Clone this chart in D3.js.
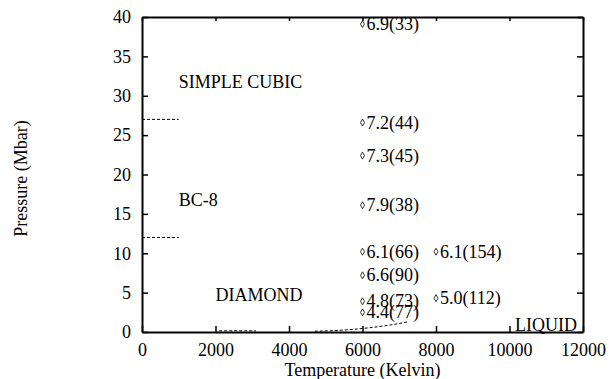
<!DOCTYPE html>
<html>
<head>
<meta charset="utf-8">
<script src="https://cdn.jsdelivr.net/npm/d3@7"></script>
<style>
  body { margin: 0; background: #fff; }
  text { font-family: "Liberation Serif", "Times New Roman", serif; fill: #000; }
</style>
</head>
<body>
<div id="chart"></div>
<script>
// data
const pointT = [6000, 6000, 6000, 6000, 6000, 6000, 6000, 6000, 8000, 8000];
const pointP = [39.1, 26.6, 22.4, 16.1, 10.2, 7.2, 3.9, 2.5, 10.2, 4.3];
const pointLabels = ["6.9(33)", "7.2(44)", "7.3(45)", "7.9(38)", "6.1(66)", "6.6(90)",
    "4.8(73)", "4.4(77)", "6.1(154)", "5.0(112)"];

// phase boundaries (dashed)
const boundaryT = [[0, 1000], [0, 1000], [4700, 5500, 6000, 6700, 7250], [2100, 3100]];
const boundaryP = [[27, 27], [12, 12], [0.1, 0.25, 0.45, 0.85, 1.3], [0.15, 0.15]];

const phaseNames = ["SIMPLE CUBIC", "BC-8", "DIAMOND", "LIQUID"];
const phaseT = [1000, 1000, 2000, 10150];
const phaseP = [31, 16, 3.9, 0.1];

const xTicks = [0, 2000, 4000, 6000, 8000, 10000, 12000];
const yTicks = [0, 5, 10, 15, 20, 25, 30, 35, 40];

const fontSize = "18px";
const serif = "'Liberation Serif', 'Times New Roman', serif";

const margin = { top: 17, right: 30, bottom: 47, left: 142 },
    width = 613 - margin.left - margin.right,
    height = 379 - margin.top - margin.bottom;

const svg = d3.select("#chart")
    .append("svg")
    .attr("width", 613)
    .attr("height", 379)
    .append("g")
    .attr("transform", `translate(${margin.left},${margin.top})`);

const x = d3.scaleLinear().domain([0, 12000]).range([0, width]);
const y = d3.scaleLinear().domain([0, 40]).range([height, 0]);

// bottom axis
const xAxis = svg.append("g")
    .attr("transform", `translate(0, ${height})`)
    .call(d3.axisBottom(x).tickValues(xTicks).tickFormat(d3.format("d"))
        .tickSizeInner(-6).tickSizeOuter(0).tickPadding(11));
// left axis
const yAxis = svg.append("g")
    .call(d3.axisLeft(y).tickValues(yTicks).tickSizeInner(-6).tickSizeOuter(0).tickPadding(11));
// top and right ticks (no labels)
const xTop = svg.append("g")
    .call(d3.axisTop(x).tickValues(xTicks).tickSizeInner(-4).tickSizeOuter(0).tickFormat(""));
const yRight = svg.append("g")
    .attr("transform", `translate(${width},0)`)
    .call(d3.axisRight(y).tickValues(yTicks).tickSizeInner(-6).tickSizeOuter(0).tickFormat(""));

[xAxis, yAxis, xTop, yRight].forEach(a => {
    a.attr("font-family", serif).attr("font-size", fontSize);
    a.select(".domain").attr("stroke", "#000").attr("stroke-width", 2);
    a.selectAll(".tick line").attr("stroke", "#000").attr("stroke-width", 1.5);
    a.selectAll(".tick text")
        .style("font-family", serif)
        .style("font-size", fontSize)
        .attr("fill", "#000");
});

// axis titles
svg.append("text")
    .attr("x", width / 2)
    .attr("y", height + 44)
    .attr("text-anchor", "middle")
    .style("font-size", fontSize)
    .text("Temperature (Kelvin)");
svg.append("text")
    .attr("transform", `translate(${-115},${height / 2 + 4}) rotate(-90)`)
    .attr("text-anchor", "middle")
    .style("font-size", fontSize)
    .text("Pressure (Mbar)");

// dashed boundaries
const line = d3.line().x(d => x(d[0])).y(d => y(d[1])).curve(d3.curveMonotoneX);
boundaryT.forEach((ts, i) => {
    svg.append("path")
        .datum(ts.map((t, j) => [t, boundaryP[i][j]]))
        .attr("fill", "none")
        .attr("stroke", "#000")
        .attr("stroke-width", 1)
        .attr("stroke-dasharray", "3,2")
        .attr("d", line);
});

// phase names
svg.append("g")
    .selectAll("text")
    .data(phaseNames)
    .join("text")
    .attr("x", (d, i) => x(phaseT[i]))
    .attr("y", (d, i) => y(phaseP[i]))
    .style("font-size", fontSize)
    .text(d => d);

// points
const pts = svg.append("g")
    .selectAll("g")
    .data(pointLabels)
    .join("g")
    .attr("transform", (d, i) => `translate(${x(pointT[i])},${y(pointP[i])})`);
pts.append("path")
    .attr("d", d3.symbol().type(d3.symbolDiamond).size(14))
    .attr("fill", "none")
    .attr("stroke", "#000")
    .attr("stroke-width", 0.8);
pts.append("text")
    .attr("x", 4)
    .attr("y", 6)
    .style("font-size", fontSize)
    .text(d => d);
</script>
</body>
</html>
